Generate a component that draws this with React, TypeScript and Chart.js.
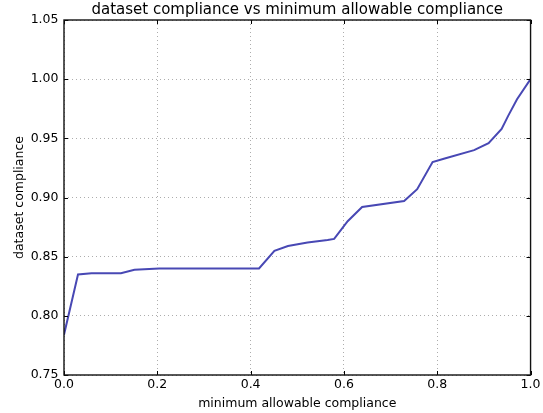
import { useEffect, useRef } from 'react';
import { Chart, registerables } from 'chart.js';

Chart.register(...registerables);

// Minimum allowable compliance threshold (x) and resulting dataset compliance (y)
const allowable = [
  0, 0.03, 0.059, 0.122, 0.151, 0.204, 0.418, 0.451, 0.48, 0.522, 0.565, 0.579,
  0.608, 0.639, 0.729, 0.757, 0.79, 0.816, 0.879, 0.91, 0.938, 0.952, 0.971, 1.0,
];
const compliance = [
  0.784, 0.835, 0.836, 0.836, 0.839, 0.84, 0.84, 0.855, 0.859, 0.862, 0.864, 0.865,
  0.88, 0.892, 0.897, 0.907, 0.93, 0.933, 0.94, 0.946, 0.958, 0.969, 0.983, 1.0,
];

const titleText = 'dataset compliance vs minimum allowable compliance';
const xLabel = 'minimum allowable compliance';
const yLabel = 'dataset compliance';

const FONT = 'DejaVu Sans';

// Solid frame around the plot area with small inward tick marks on all four sides
const framePlugin = {
  id: 'frame',
  afterDatasetsDraw(chart: any) {
    const { ctx, chartArea: a, scales } = chart;
    const len = 4;
    ctx.save();
    ctx.strokeStyle = '#000';
    ctx.lineWidth = 1;
    ctx.beginPath();
    scales.x.ticks.forEach((t: any) => {
      const px = Math.round(scales.x.getPixelForValue(t.value)) + 0.5;
      ctx.moveTo(px, a.bottom);
      ctx.lineTo(px, a.bottom - len);
      ctx.moveTo(px, a.top);
      ctx.lineTo(px, a.top + len);
    });
    scales.y.ticks.forEach((t: any) => {
      const py = Math.round(scales.y.getPixelForValue(t.value)) + 0.5;
      ctx.moveTo(a.left, py);
      ctx.lineTo(a.left + len, py);
      ctx.moveTo(a.right, py);
      ctx.lineTo(a.right - len, py);
    });
    ctx.stroke();
    ctx.lineWidth = 1.4;
    ctx.strokeStyle = '#111';
    ctx.strokeRect(a.left, a.top, a.right - a.left, a.bottom - a.top);
    ctx.restore();
  },
};

export default function App() {
  const canvasRef = useRef<HTMLCanvasElement | null>(null);

  useEffect(() => {
    if (!canvasRef.current) return;
    const points = allowable.map((x, i) => ({ x, y: compliance[i] }));
    const gridStyle = {
      color: 'rgba(0,0,0,0.32)',
      lineWidth: 1,
      drawTicks: false,
    };
    const chart = new Chart(canvasRef.current, {
      type: 'line',
      data: {
        datasets: [
          {
            data: points,
            borderColor: '#4848b4',
            borderWidth: 2,
            pointRadius: 0,
            tension: 0,
            fill: false,
          },
        ],
      },
      plugins: [framePlugin],
      options: {
        animation: false,
        responsive: false,
        devicePixelRatio: 1,
        layout: { padding: { top: 0, right: 9, bottom: 0, left: 0 } },
        plugins: {
          legend: { display: false },
          tooltip: { enabled: false },
          title: {
            display: true,
            text: titleText,
            fullSize: false,
            color: '#000',
            font: { family: FONT, size: 15, weight: 'normal', lineHeight: 1.2 },
            padding: { top: 1, bottom: 1 },
          },
        },
        scales: {
          x: {
            type: 'linear',
            min: 0,
            max: 1,
            border: { display: false, dash: [1, 3] },
            grid: gridStyle,
            ticks: {
              stepSize: 0.2,
              color: '#000',
              padding: 2.5,
              font: { family: FONT, size: 12.5 },
              callback: (v: any) => Number(v).toFixed(1),
            },
            title: {
              display: true,
              text: xLabel,
              color: '#000',
              font: { family: FONT, size: 12.5, lineHeight: 1.2 },
              padding: { top: 0, bottom: 1.5 },
            },
            afterFit: (s: any) => {
              s.height = 38;
            },
          },
          y: {
            min: 0.75,
            max: 1.05,
            border: { display: false, dash: [1, 3] },
            grid: gridStyle,
            ticks: {
              stepSize: 0.05,
              color: '#000',
              padding: 5.5,
              font: { family: FONT, size: 12.5 },
              callback: (v: any) => Number(v).toFixed(2),
            },
            title: {
              display: true,
              text: yLabel,
              color: '#000',
              font: { family: FONT, size: 12.5, lineHeight: 1.2 },
              padding: { top: 12.5, bottom: 0 },
            },
            afterFit: (s: any) => {
              s.width = 64;
            },
          },
        },
      },
    } as any);
    return () => chart.destroy();
  }, []);

  return (
    <div style={{ position: 'absolute', left: 0, top: 0, width: 543, height: 413, background: '#fff' }}>
      <canvas ref={canvasRef} width={543} height={413} />
    </div>
  );
}
